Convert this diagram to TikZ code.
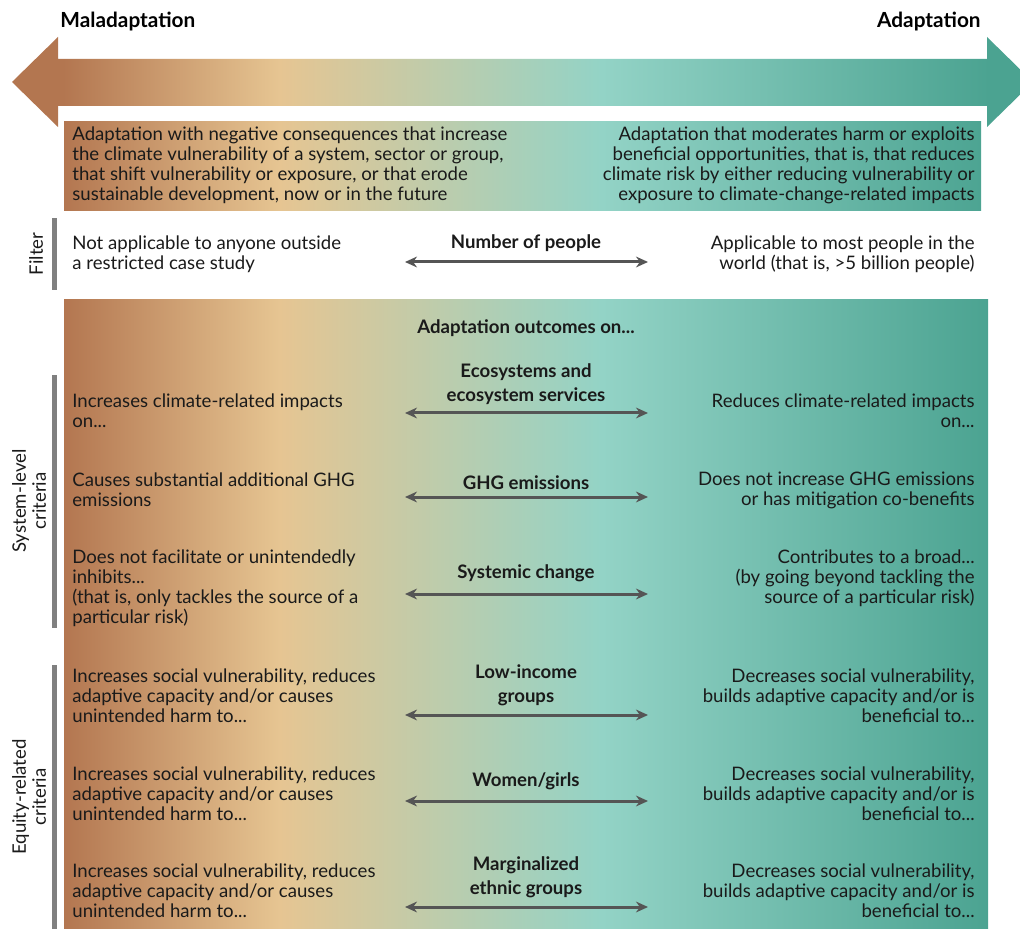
\documentclass[tikz,border=0pt]{standalone}
\usepackage{fontspec}
\setmainfont{Lato}
\usetikzlibrary{arrows.meta}
\definecolor{malbrown}{HTML}{B37650}
\definecolor{maltan}{HTML}{E6C592}
\definecolor{adpale}{HTML}{93D3C6}
\definecolor{adteal}{HTML}{4BA391}
\definecolor{barGray}{HTML}{808080}
\definecolor{tipGray}{HTML}{555555}
\definecolor{inkDark}{HTML}{1A1A1A}
% stops between 25bp and 75bp cover the shaded path
\pgfdeclarehorizontalshading{maltoad}{100bp}{color(0bp)=(malbrown); color(25bp)=(malbrown);
  color(28.1bp)=(malbrown); color(38.7bp)=(maltan); color(54.5bp)=(adpale);
  color(73.5bp)=(adteal); color(100bp)=(adteal)}
\tikzset{
  sidetxt/.style={font=\fontsize{9.3}{10}\selectfont, text=inkDark, inner sep=0pt},
  lefttxt/.style={sidetxt, anchor=west, align=left},
  righttxt/.style={sidetxt, anchor=east, align=right},
  crittxt/.style={font=\fontsize{9.3}{12}\selectfont\bfseries, text=inkDark, align=center, inner sep=0pt},
  headtxt/.style={font=\fontsize{10.4}{12}\selectfont\bfseries, text=black, inner sep=0pt},
  vlabel/.style={sidetxt, rotate=90, align=center},
  critbar/.style={fill=barGray},
  twoway/.style={{Stealth[length=6pt,width=5.4pt]}-{Stealth[length=6pt,width=5.4pt]}, draw=tipGray, line width=1.5pt}
}
\begin{document}
\begin{tikzpicture}[x=0.5pt,y=-0.5pt]
  \clip (0,0) rectangle (1020,929);
  \fill[white] (0,0) rectangle (1020,929);
  % gradient shapes
  \begin{scope}
    \clip (12,82) -- (58,37) -- (58,59) -- (987,59) -- (987,37) -- (1033,82)
      -- (987,127) -- (987,106) -- (58,106) -- (58,127) -- cycle;
    \shade[shading=maltoad] (0,0) rectangle (1020,929);
  \end{scope}
  \begin{scope}
    \clip (64,122) rectangle (981,211);
    \shade[shading=maltoad] (0,0) rectangle (1020,929);
  \end{scope}
  \begin{scope}
    \clip (64,300) rectangle (988,929);
    \shade[shading=maltoad] (0,0) rectangle (1020,929);
  \end{scope}
  % headings
  \node[headtxt, anchor=west] (malhead) at (60,22) {Maladaptation};
  \node[headtxt, anchor=east] (adhead) at (981,22) {Adaptation};
  \node[lefttxt] (maldef) at (72,165) {Adaptation with negative consequences that increase\\the climate vulnerability of a system, sector or group,\\that shift vulnerability or exposure, or that erode\\sustainable development, now or in the future};
  \node[righttxt] (addef) at (975,165) {Adaptation that moderates harm or exploits\\beneficial opportunities, that is, that reduces\\climate risk by either reducing vulnerability or\\exposure to climate-change-related impacts};
  % side bars
  \fill[critbar] (52,218) rectangle (57,290);
  \fill[critbar] (52,375) rectangle (57,628);
  \fill[critbar] (52,665) rectangle (57,929);
  \node[vlabel] (filterlab) at (36,254) {Filter};
  \node[vlabel] (syslab) at (29,501) {System-level\\criteria};
  \node[vlabel] (eqlab) at (29,797) {Equity-related\\criteria};
  % filter
  \node[lefttxt] (popl) at (72,254) {Not applicable to anyone outside\\a restricted case study};
  \node[righttxt] (popr) at (975,254) {Applicable to most people in the\\world (that is, >5 billion people)};
  \node[crittxt] (pop) at (526,243) {Number of people};
  \coordinate (popa) at (405,262);
  \coordinate (popb) at (648,262);
  \draw[twoway] (popa) -- (popb);
  \node[crittxt] (outcomes) at (526,328) {Adaptation outcomes on...};
  % ecosystems
  \node[crittxt] (eco) at (526,384) {Ecosystems and\\ecosystem services};
  \node[lefttxt] (ecol) at (72,411) {Increases climate-related impacts\\on...};
  \node[righttxt] (ecor) at (975,411) {Reduces climate-related impacts\\on...};
  \coordinate (ecoa) at (405,413);
  \coordinate (ecob) at (648,413);
  \draw[twoway] (ecoa) -- (ecob);
  % ghg
  \node[crittxt] (ghg) at (526,483) {GHG emissions};
  \node[lefttxt] (ghgl) at (72,490) {Causes substantial additional GHG\\emissions};
  \node[righttxt] (ghgr) at (975,490) {Does not increase GHG emissions\\or has mitigation co-benefits};
  \coordinate (ghga) at (405,497);
  \coordinate (ghgb) at (648,497);
  \draw[twoway] (ghga) -- (ghgb);
  % systemic change
  \node[crittxt] (syst) at (526,573) {Systemic change};
  \node[lefttxt] (systl) at (72,588) {Does not facilitate or unintendedly\\inhibits...\\(that is, only tackles the source of a\\particular risk)};
  \node[righttxt] (systr) at (975,578) {Contributes to a broad...\\(by going beyond tackling the\\source of a particular risk)};
  \coordinate (systa) at (405,594);
  \coordinate (systb) at (648,594);
  \draw[twoway] (systa) -- (systb);
  % low-income
  \node[crittxt] (inc) at (526,685) {Low-income\\groups};
  \node[lefttxt] (incl) at (72,696) {Increases social vulnerability, reduces\\adaptive capacity and/or causes\\unintended harm to...};
  \node[righttxt] (incr) at (975,696) {Decreases social vulnerability,\\builds adaptive capacity and/or is\\beneficial to...};
  \coordinate (inca) at (405,715);
  \coordinate (incb) at (648,715);
  \draw[twoway] (inca) -- (incb);
  % women
  \node[crittxt] (wom) at (526,781) {Women/girls};
  \node[lefttxt] (woml) at (72,794) {Increases social vulnerability, reduces\\adaptive capacity and/or causes\\unintended harm to...};
  \node[righttxt] (womr) at (975,794) {Decreases social vulnerability,\\builds adaptive capacity and/or is\\beneficial to...};
  \coordinate (woma) at (405,801);
  \coordinate (womb) at (648,801);
  \draw[twoway] (woma) -- (womb);
  % ethnic groups
  \node[crittxt] (eth) at (526,877) {Marginalized\\ethnic groups};
  \node[lefttxt] (ethl) at (72,891) {Increases social vulnerability, reduces\\adaptive capacity and/or causes\\unintended harm to...};
  \node[righttxt] (ethr) at (975,891) {Decreases social vulnerability,\\builds adaptive capacity and/or is\\beneficial to...};
  \coordinate (etha) at (405,907);
  \coordinate (ethb) at (648,907);
  \draw[twoway] (etha) -- (ethb);
\end{tikzpicture}
\end{document}
